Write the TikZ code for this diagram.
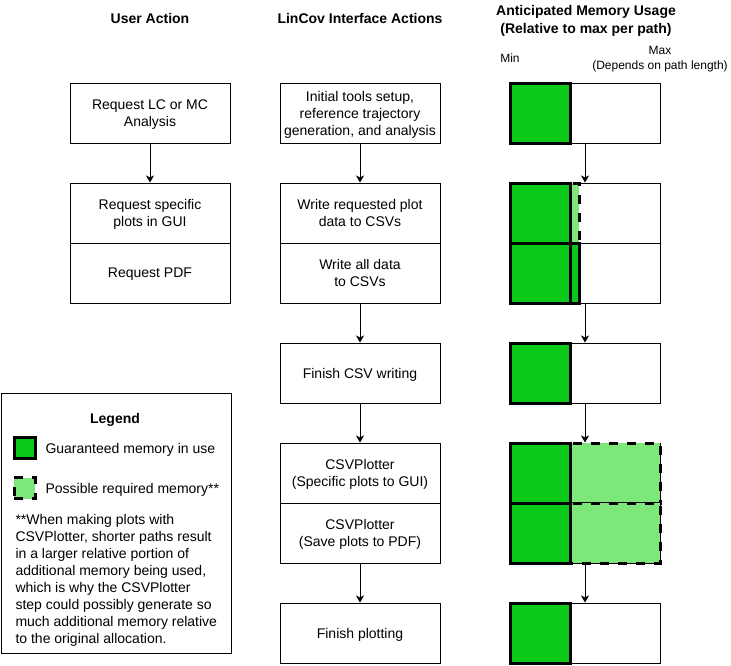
\documentclass[tikz,border=0pt]{standalone}
\usepackage{fontspec}
\setmainfont{Liberation Sans}
\usetikzlibrary{arrows.meta}
\definecolor{guargreen}{RGB}{11,201,24}
\definecolor{possgreen}{RGB}{126,231,122}

\begin{document}
\begin{tikzpicture}[x=1pt, y=-1pt,
    box/.style={draw, line width=1pt, minimum width=160pt, minimum height=60pt, align=center, text depth=-1pt, font=\fontsize{14pt}{17pt}\selectfont},
    membox/.style={draw, line width=1pt, minimum width=150pt, minimum height=60pt},
    guar/.style={draw, line width=3pt, fill=guargreen},
    poss/.style={draw, line width=3pt, fill=possgreen, dash pattern=on 9pt off 9pt},
    head/.style={font=\fontsize{14pt}{18pt}\selectfont\bfseries, align=center},
    lbl/.style={font=\fontsize{14pt}{17pt}\selectfont},
    smalltxt/.style={font=\fontsize{12pt}{15pt}\selectfont, align=center},
    arr/.style={-{Stealth[length=7pt, width=8pt, inset=2pt]}, line width=1pt}]
    \useasboundingbox (0,0) rectangle (731,665);

    % Titres des colonnes
    \node[head] (hUser) at (150,18) {User Action};
    \node[head] (hLin) at (360,18) {LinCov Interface Actions};
    \node[head] (hMem) at (586,21) {Anticipated Memory Usage\\(Relative to max per path)};
    \node[smalltxt] (lMin) at (510,58) {Min};
    \node[smalltxt] (lMax) at (660,59.5) {Max\\(Depends on path length)};

    % Colonne utilisateur
    \node[box] (user1) at (150,113) {Request LC or MC\\Analysis};
    \node[box] (user2) at (150,213) {Request specific\\plots in GUI};
    \node[box] (user3) at (150,273) {Request PDF};

    % Colonne LinCov
    \node[box] (lin1) at (360,113) {Initial tools setup,\\reference trajectory\\generation, and analysis};
    \node[box] (lin2) at (360,213) {Write requested plot\\data to CSVs};
    \node[box] (lin3) at (360,273) {Write all data\\to CSVs};
    \node[box] (lin4) at (360,373) {Finish CSV writing};
    \node[box] (lin5) at (360,473) {CSVPlotter\\(Specific plots to GUI)};
    \node[box] (lin6) at (360,533) {CSVPlotter\\(Save plots to PDF)};
    \node[box] (lin7) at (360,633) {Finish plotting};

    % Colonne memoire
    \foreach \n/\y in {1/113, 2/213, 3/273, 4/373, 5/473, 6/533, 7/633}{
        \node[membox] (mem\n) at (585,\y) {};
    }
    \draw[poss] (570,183) rectangle (579,243);
    \draw[guar] (570,243) rectangle (579,303);
    \draw[poss] (570,443) rectangle (660,503);
    \draw[poss] (570,503) rectangle (660,563);
    \foreach \y in {83,183,243,343,443,503,603}{
        \draw[guar] (510,\y) rectangle ++(60,60);
    }

    % Fleches
    \foreach \a/\b in {user1/user2, lin1/lin2, lin3/lin4, lin4/lin5, lin6/lin7,
                       mem1/mem2, mem3/mem4, mem4/mem5, mem6/mem7}{
        \draw[arr] (\a) -- (\b);
    }

    % Legende
    \node[draw, line width=1pt, minimum width=230pt, minimum height=260pt] (legend) at (116,523) {};
    \node[head] (legTitle) at (115,420) {Legend};
    \node[guar, minimum size=21pt] (legGuar) at (24.5,448) {};
    \node[lbl, anchor=west] (legGuarTxt) at (42,449.5) {Guaranteed memory in use};
    \node[poss, minimum size=21pt] (legPoss) at (24.5,488) {};
    \node[lbl, anchor=west] (legPossTxt) at (42,489.5) {Possible required memory**};
    \node[lbl, anchor=north west, align=left] (legNote) at (12,510.5) {**When making plots with\\CSVPlotter, shorter paths result\\in a larger relative portion of\\additional memory being used,\\which is why the CSVPlotter\\step could possibly generate so\\much additional memory relative\\to the original allocation.};
\end{tikzpicture}
\end{document}
